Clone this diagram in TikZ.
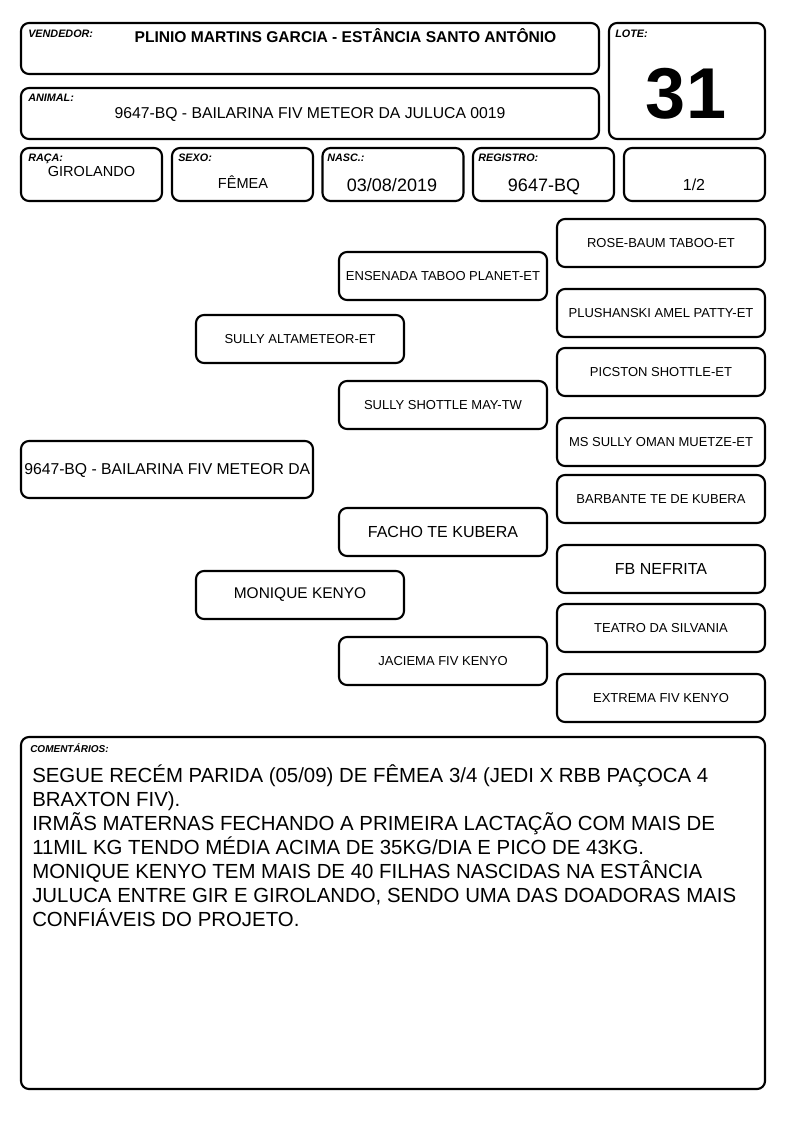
\documentclass[tikz,border=0pt]{standalone}
\usepackage{fontspec}
\setmainfont{Liberation Sans}
\begin{document}
\begin{tikzpicture}[x=0.75pt,y=-0.75pt,
  frame/.style={draw, line width=1.6pt, rounded corners=6pt, inner sep=0pt},
  pbox/.style={frame, minimum width=156pt, minimum height=36pt, align=center},
  hdr/.style={frame, minimum height=39.75pt, minimum width=105.75pt},
  lbl/.style={inner sep=0pt, anchor=base west, font=\fontsize{8.1}{9}\selectfont\bfseries\itshape},
  txt/.style={inner sep=0pt, anchor=base},
  f13/.style={font=\fontsize{9.75}{11}\selectfont},
  f16/.style={font=\fontsize{12}{14}\selectfont}]
\useasboundingbox (0,0) rectangle (794,1123);
% header
\node[frame, minimum width=433.5pt, minimum height=38.25pt] (vend) at (310,48.5) {};
\node[lbl] (vendl) at (28,38) {VENDEDOR:};
\node[txt, font=\fontsize{11.7}{14}\selectfont\bfseries] (vendt) at (345.5,43) {PLINIO MARTINS GARCIA - ESTÂNCIA SANTO ANTÔNIO};
\node[frame, minimum width=117pt, minimum height=87pt] (lote) at (687,81) {};
\node[lbl] (lotel) at (615,38) {LOTE:};
\node[txt, font=\fontsize{54}{58}\selectfont\bfseries] (lotet) at (686,119) {31};
\node[frame, minimum width=433.5pt, minimum height=38.25pt] (anim) at (310,113.5) {};
\node[lbl] (animl) at (28,102) {ANIMAL:};
\node[txt, font=\fontsize{11.8}{13}\selectfont] (animt) at (310,118.5) {9647-BQ - BAILARINA FIV METEOR DA JULUCA 0019};
\node[hdr] (raca) at (91.5,174.5) {};
\node[lbl] (racal) at (28,162) {RAÇA:};
\node[txt, font=\fontsize{10.9}{12}\selectfont] (racat) at (91.5,177) {GIROLANDO};
\node[hdr] (sexo) at (242.5,174.5) {};
\node[lbl] (sexol) at (178,162) {SEXO:};
\node[txt, font=\fontsize{10.9}{12}\selectfont] (sexot) at (243,189) {FÊMEA};
\node[hdr] (nasc) at (393,174.5) {};
\node[lbl] (nascl) at (327,162) {NASC.:};
\node[txt, font=\fontsize{13.5}{15}\selectfont] (nasct) at (392,192) {03/08/2019};
\node[hdr] (reg) at (543.5,174.5) {};
\node[lbl] (regl) at (478,162) {REGISTRO:};
\node[txt, font=\fontsize{13.5}{15}\selectfont] (regt) at (544,192) {9647-BQ};
\node[hdr] (frac) at (694.5,174.5) {};
\node[txt, font=\fontsize{12}{14}\selectfont] (fract) at (694,191) {1/2};
% pedigree
\node[frame, minimum width=219pt, minimum height=42.75pt] (root) at (167,469.5) {};
\node[inner sep=0pt, anchor=west, font=\fontsize{11.8}{14}\selectfont] (roott) at (24,470) {9647-BQ - BAILARINA FIV METEOR DA};
\node[pbox, f13] (s) at (300,339) {SULLY ALTAMETEOR-ET};
\node[pbox, font=\fontsize{11.6}{14}\selectfont] (d) at (300,595) {MONIQUE KENYO};
\node[pbox, f13] (ss) at (443,276) {ENSENADA TABOO PLANET-ET};
\node[pbox, f13] (sd) at (443,405) {SULLY SHOTTLE MAY-TW};
\node[pbox, f16] (ds) at (443,532) {FACHO TE KUBERA};
\node[pbox, f13] (dd) at (443,661) {JACIEMA FIV KENYO};
\node[pbox, f13] (sss) at (661,243) {ROSE-BAUM TABOO-ET};
\node[pbox, f13] (ssd) at (661,313) {PLUSHANSKI AMEL PATTY-ET};
\node[pbox, f13] (sds) at (661,372) {PICSTON SHOTTLE-ET};
\node[pbox, f13] (sdd) at (661,442) {MS SULLY OMAN MUETZE-ET};
\node[pbox, f13] (dss) at (661,499) {BARBANTE TE DE KUBERA};
\node[pbox, f16] (dsd) at (661,569) {FB NEFRITA};
\node[pbox, f13] (dds) at (661,628) {TEATRO DA SILVANIA};
\node[pbox, f13] (ddd) at (661,698) {EXTREMA FIV KENYO};
% comments
\node[frame, minimum width=558pt, minimum height=264pt] (com) at (393,913) {};
\node[lbl, font=\fontsize{7.5}{9}\selectfont\bfseries\itshape] (coml) at (30,752) {COMENTÁRIOS:};
\node[inner sep=0pt, anchor=north west, align=left, font=\fontsize{15.3}{18}\selectfont] (comt) at (32,764) {SEGUE RECÉM PARIDA (05/09) DE FÊMEA 3/4 (JEDI X RBB PAÇOCA 4\\BRAXTON FIV).\\IRMÃS MATERNAS FECHANDO A PRIMEIRA LACTAÇÃO COM MAIS DE\\11MIL KG TENDO MÉDIA ACIMA DE 35KG/DIA E PICO DE 43KG.\\MONIQUE KENYO TEM MAIS DE 40 FILHAS NASCIDAS NA ESTÂNCIA\\JULUCA ENTRE GIR E GIROLANDO, SENDO UMA DAS DOADORAS MAIS\\CONFIÁVEIS DO PROJETO.};
\end{tikzpicture}
\end{document}
